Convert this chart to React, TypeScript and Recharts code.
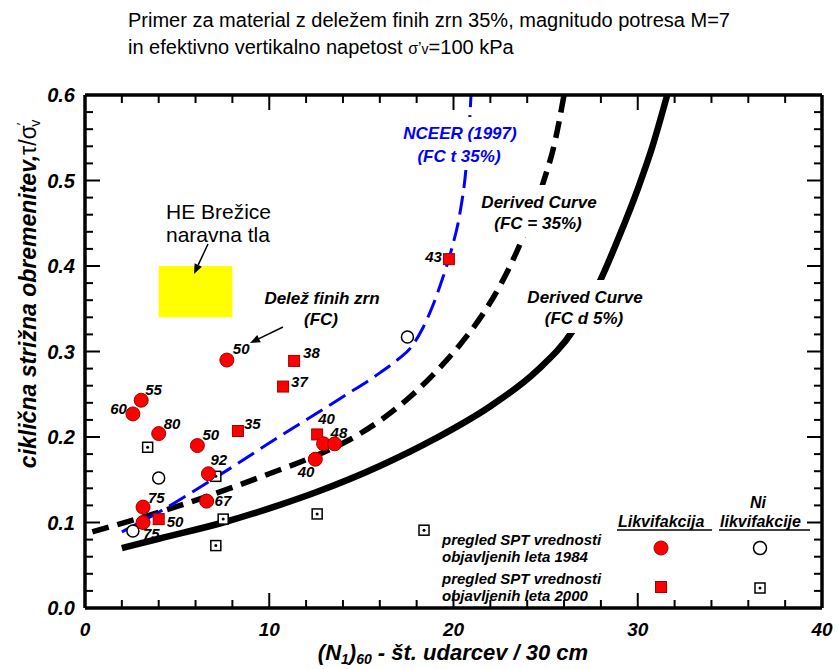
import React from 'react';
import { ComposedChart, XAxis, YAxis, Scatter, Line, ReferenceArea } from 'recharts';

// ---------- data ----------
const xTicks = [0, 2, 4, 6, 8, 10, 12, 14, 16, 18, 20, 22, 24, 26, 28, 30, 32, 34, 36, 38, 40];
const yTicks = [0, 0.02, 0.04, 0.06, 0.08, 0.1, 0.12, 0.14, 0.16, 0.18, 0.2, 0.22, 0.24, 0.26, 0.28, 0.3,
  0.32, 0.34, 0.36, 0.38, 0.4, 0.42, 0.44, 0.46, 0.48, 0.5, 0.52, 0.54, 0.56, 0.58, 0.6];

// 1984 review - liquefaction (red circles), fc = fines content label
const liq1984 = [
  { x: 7.7, y: 0.29, fc: '50' },
  { x: 3.05, y: 0.243, fc: '55' },
  { x: 2.6, y: 0.227, fc: '60' },
  { x: 4.0, y: 0.204, fc: '80' },
  { x: 6.1, y: 0.19, fc: '50' },
  { x: 6.7, y: 0.157, fc: '92' },
  { x: 6.6, y: 0.125, fc: '67' },
  { x: 3.15, y: 0.118, fc: '75' },
  { x: 3.15, y: 0.1, fc: '75' },
  { x: 12.5, y: 0.174, fc: '40' },
  { x: 12.95, y: 0.192, fc: '48' },
  { x: 13.55, y: 0.192, fc: '' },
];
// 2000 review - liquefaction (red squares)
const liq2000 = [
  { x: 11.35, y: 0.289, fc: '38' },
  { x: 10.75, y: 0.259, fc: '37' },
  { x: 8.3, y: 0.207, fc: '35' },
  { x: 12.6, y: 0.203, fc: '40' },
  { x: 4.0, y: 0.104, fc: '50' },
  { x: 19.75, y: 0.408, fc: '43' },
];
// 1984 review - no liquefaction (open circles)
const noLiq1984 = [
  { x: 4.0, y: 0.152 },
  { x: 2.6, y: 0.09 },
  { x: 17.5, y: 0.317 },
];
// 2000 review - no liquefaction (open squares with dot)
const noLiq2000 = [
  { x: 3.4, y: 0.188 },
  { x: 7.1, y: 0.154 },
  { x: 7.5, y: 0.104 },
  { x: 7.1, y: 0.073 },
  { x: 12.6, y: 0.11 },
  { x: 18.4, y: 0.091 },
];
// curves
const nceerCurve = [
  { x: 2, y: 0.089 }, { x: 4, y: 0.112 }, { x: 6, y: 0.138 }, { x: 8, y: 0.165 }, { x: 10, y: 0.193 },
  { x: 12, y: 0.22 }, { x: 14, y: 0.247 }, { x: 16, y: 0.275 }, { x: 17, y: 0.291 }, { x: 17.7, y: 0.305 },
  { x: 18.3, y: 0.326 }, { x: 18.9, y: 0.355 }, { x: 19.4, y: 0.385 }, { x: 19.9, y: 0.42 },
  { x: 20.35, y: 0.462 }, { x: 20.67, y: 0.512 }, { x: 20.85, y: 0.56 }, { x: 20.95, y: 0.6 },
];
const derived35 = [
  { x: 0.4, y: 0.089 }, { x: 2, y: 0.099 }, { x: 4, y: 0.112 }, { x: 6, y: 0.126 }, { x: 8, y: 0.141 },
  { x: 10, y: 0.157 }, { x: 12.4, y: 0.177 }, { x: 14.2, y: 0.195 }, { x: 16, y: 0.219 }, { x: 17.8, y: 0.25 },
  { x: 18.9, y: 0.273 }, { x: 20.35, y: 0.308 }, { x: 21.6, y: 0.344 }, { x: 22.6, y: 0.38 },
  { x: 23.6, y: 0.425 }, { x: 24.8, y: 0.493 }, { x: 25.5, y: 0.545 }, { x: 26.0, y: 0.6 },
];
const derived5 = [
  { x: 2, y: 0.07 }, { x: 4, y: 0.081 }, { x: 7.5, y: 0.1 }, { x: 10.5, y: 0.12 }, { x: 12.5, y: 0.135 },
  { x: 16, y: 0.166 }, { x: 19, y: 0.198 }, { x: 22, y: 0.236 }, { x: 24.5, y: 0.277 },
  { x: 26.5, y: 0.325 }, { x: 27.9, y: 0.38 }, { x: 29, y: 0.435 }, { x: 30, y: 0.49 },
  { x: 30.8, y: 0.54 }, { x: 31.6, y: 0.6 },
];
// site zone "HE Brežice naravna tla"
const siteZone = { x1: 4, x2: 8, y1: 0.34, y2: 0.4 };

// ---------- styles ----------
const FONT = '"Liberation Sans", Arial, sans-serif';
const RED = '#ff0000';
const RED_EDGE = '#a00000';

// label placement per point index: [dx, dy(center), anchor]
const place1984: [number, number, string][] = [
  [6, -11, 'start'], [4, -10, 'start'], [-6, -5, 'end'], [5, -10, 'start'], [5, -11, 'start'],
  [2, -14, 'start'], [8, 0, 'start'], [5, -9, 'start'], [0, 11, 'start'], [-1, 13, 'end'],
  [7, -11, 'start'], [0, 0, 'start'],
];
const place2000: [number, number, string][] = [
  [9, -8, 'start'], [8, -5, 'start'], [6, -7, 'start'], [1, -15, 'start'], [8, 3, 'start'], [-7, -2, 'end'],
];

const PtLabel = ({ cx, cy, text, p }: any) =>
  text ? (
    <text x={cx + p[0]} y={cy + p[1] + 5} textAnchor={p[2]} fontFamily={FONT} fontWeight="bold"
      fontStyle="italic" fontSize={15} fill="#000">{text}</text>
  ) : null;

const RedCircle = (props: any) => {
  const { cx, cy, payload, index } = props;
  return (
    <g>
      <circle cx={cx} cy={cy} r={7} fill={RED} stroke={RED_EDGE} strokeWidth={1} />
      <PtLabel cx={cx} cy={cy} text={payload.fc} p={place1984[index] || [6, -10, 'start']} />
    </g>
  );
};
const RedSquare = (props: any) => {
  const { cx, cy, payload, index } = props;
  return (
    <g>
      <rect x={cx - 5.5} y={cy - 5.5} width={11} height={11} fill={RED} stroke={RED_EDGE} strokeWidth={1} />
      <PtLabel cx={cx} cy={cy} text={payload.fc} p={place2000[index] || [6, -10, 'start']} />
    </g>
  );
};
const OpenCircle = (props: any) => (
  <circle cx={props.cx} cy={props.cy} r={6} fill="#fff" stroke="#000" strokeWidth={1.5} />
);
const DotSquare = (props: any) => (
  <g>
    <rect x={props.cx - 5} y={props.cy - 5} width={10} height={10} fill="#fff" stroke="#000" strokeWidth={1.5} />
    <circle cx={props.cx} cy={props.cy} r={1.5} fill="#000" />
  </g>
);

const isMajor = (v: number, step: number) => Math.abs(v / step - Math.round(v / step)) < 1e-6;

const BottomTick = ({ x, y, payload }: any) => {
  const major = isMajor(payload.value, 10);
  return (
    <g>
      <line x1={x} y1={y} x2={x} y2={y - (major ? 15 : 8)} stroke="#000" strokeWidth={2} />
      {major && (
        <text x={x} y={y + 28} textAnchor="middle" fontFamily={FONT} fontWeight="bold" fontStyle="italic"
          fontSize={19} fill="#000">{payload.value}</text>
      )}
    </g>
  );
};
const TopTick = ({ x, y, payload }: any) => {
  const major = isMajor(payload.value, 10);
  return <line x1={x} y1={y} x2={x} y2={y + (major ? 15 : 8)} stroke="#000" strokeWidth={2} />;
};
const LeftTick = ({ x, y, payload }: any) => {
  const major = isMajor(payload.value, 0.1);
  return (
    <g>
      <line x1={x} y1={y} x2={x + (major ? 15 : 8)} y2={y} stroke="#000" strokeWidth={2} />
      {major && (
        <text x={x - 10} y={y + 7} textAnchor="end" fontFamily={FONT} fontWeight="bold" fontStyle="italic"
          fontSize={20} fill="#000">{payload.value.toFixed(1)}</text>
      )}
    </g>
  );
};
const RightTick = ({ x, y, payload }: any) => {
  const major = isMajor(payload.value, 0.1);
  return <line x1={x} y1={y} x2={x - (major ? 15 : 8)} y2={y} stroke="#000" strokeWidth={2} />;
};

const axisLine = { stroke: '#000', strokeWidth: 3.5 };

const Arrow = ({ x1, y1, x2, y2 }: any) => {
  const a = Math.atan2(y2 - y1, x2 - x1);
  const L = 10, W = 4;
  const bx = x2 - L * Math.cos(a), by = y2 - L * Math.sin(a);
  const p1 = `${bx + W * Math.sin(a)},${by - W * Math.cos(a)}`;
  const p2 = `${bx - W * Math.sin(a)},${by + W * Math.cos(a)}`;
  return (
    <g>
      <line x1={x1} y1={y1} x2={bx} y2={by} stroke="#000" strokeWidth={1.5} />
      <polygon points={`${x2},${y2} ${p1} ${p2}`} fill="#000" />
    </g>
  );
};

const bi = { fontFamily: FONT, fontWeight: 'bold' as const, fontStyle: 'italic' as const };

export default function App() {
  return (
    <div style={{ position: 'absolute', left: 0, top: 0, width: 838, height: 669, overflow: 'hidden', background: '#fff' }}>
      <ComposedChart width={838} height={669} margin={{ top: 0, right: 0, bottom: 0, left: 0 }}>
        <XAxis xAxisId={0} dataKey="x" type="number" domain={[0, 40]} ticks={xTicks} interval={0}
          allowDataOverflow height={61} tickSize={0} tickMargin={0} tickLine={false} axisLine={axisLine}
          tick={<BottomTick />} />
        <XAxis xAxisId="top" orientation="top" dataKey="x" type="number" domain={[0, 40]} ticks={xTicks}
          interval={0} allowDataOverflow height={95} tickSize={0} tickMargin={0} tickLine={false}
          axisLine={axisLine} tick={<TopTick />} />
        <YAxis yAxisId={0} dataKey="y" type="number" domain={[0, 0.6]} ticks={yTicks} interval={0}
          allowDataOverflow width={85} tickSize={0} tickMargin={0} tickLine={false} axisLine={axisLine}
          tick={<LeftTick />} />
        <YAxis yAxisId="right" orientation="right" dataKey="y" type="number" domain={[0, 0.6]} ticks={yTicks}
          interval={0} allowDataOverflow width={16} tickSize={0} tickMargin={0} tickLine={false}
          axisLine={axisLine} tick={<RightTick />} />

        <ReferenceArea x1={siteZone.x1} x2={siteZone.x2} y1={siteZone.y1} y2={siteZone.y2}
          fill="#ffff00" fillOpacity={1} stroke="none" />

        <Line data={derived5} dataKey="y" type="monotone" stroke="#000" strokeWidth={6.5} dot={false}
          activeDot={false} isAnimationActive={false} />
        <Line data={derived35} dataKey="y" type="monotone" stroke="#000" strokeWidth={5.5}
          strokeDasharray="17 9" dot={false} activeDot={false} isAnimationActive={false} />
        <Line data={nceerCurve} dataKey="y" type="monotone" stroke="#0000ff" strokeWidth={3}
          strokeDasharray="19 8" dot={false} activeDot={false} isAnimationActive={false} />

        <Scatter data={noLiq2000} dataKey="y" shape={<DotSquare />} isAnimationActive={false} />
        <Scatter data={noLiq1984} dataKey="y" shape={<OpenCircle />} isAnimationActive={false} />
        <Scatter data={liq2000} dataKey="y" shape={<RedSquare />} isAnimationActive={false} />
        <Scatter data={liq1984} dataKey="y" shape={<RedCircle />} isAnimationActive={false} />
      </ComposedChart>

      <svg width={838} height={669} style={{ position: 'absolute', left: 0, top: 0, pointerEvents: 'none' }}>
        {/* title */}
        <text x={128} y={27} fontFamily={FONT} fontSize={20} fill="#000">
          Primer za material z deležem finih zrn 35%, magnitudo potresa M=7
        </text>
        <text x={128} y={54} fontFamily={FONT} fontSize={20} fill="#000">
          in efektivno vertikalno napetost <tspan fontSize={16}>σ’</tspan><tspan fontSize={14}>v</tspan>=100 kPa
        </text>

        {/* y axis label */}
        <text transform="rotate(-90)" x={-294} y={36} textAnchor="middle" {...bi} fontSize={23} fill="#000">
          ciklična strižna obremenitev,<tspan fontStyle="normal" fontWeight="normal">τ/σ</tspan>
          <tspan fontSize={13} dy={-10} fontStyle="normal" fontWeight="normal">′</tspan>
          <tspan fontSize={14} dy={14} dx={-4} fontStyle="normal" fontWeight="normal">v</tspan>
        </text>

        {/* x axis label */}
        <text x={453} y={660} textAnchor="middle" {...bi} fontSize={22} fill="#000">
          (N<tspan fontSize={14} dy={4}>1</tspan><tspan dy={-4}>)</tspan><tspan fontSize={14} dy={4}>60</tspan>
          <tspan dy={-4}> - št. udarcev / 30 cm</tspan>
        </text>

        {/* site annotation */}
        <text x={166} y={219} fontFamily={FONT} fontSize={21} fill="#000">HE Brežice</text>
        <text x={166} y={242} fontFamily={FONT} fontSize={21} fill="#000">naravna tla</text>
        <Arrow x1={208} y1={244} x2={194} y2={274} />

        <text x={322} y={304} textAnchor="middle" {...bi} fontSize={17} fill="#000">Delež finih zrn</text>
        <text x={321} y={325} textAnchor="middle" {...bi} fontSize={17} fill="#000">(FC)</text>
        <Arrow x1={283} y1={327} x2={250} y2={343} />

        {/* curve labels */}
        <rect x={400} y={117} width={122} height={53} fill="#fff" />
        <text x={460} y={139} textAnchor="middle" {...bi} fontSize={17} fill="#0000ff">NCEER (1997)</text>
        <text x={459} y={162} textAnchor="middle" {...bi} fontSize={17} fill="#0000ff">(FC t 35%)</text>

        <rect x={476} y={185} width={128} height={52} fill="#fff" />
        <text x={539} y={208} textAnchor="middle" {...bi} fontSize={17} fill="#000">Derived Curve</text>
        <text x={538} y={229} textAnchor="middle" {...bi} fontSize={17} fill="#000">(FC = 35%)</text>

        <rect x={520} y={280} width={130} height={53} fill="#fff" />
        <text x={585} y={303} textAnchor="middle" {...bi} fontSize={17} fill="#000">Derived Curve</text>
        <text x={584} y={324} textAnchor="middle" {...bi} fontSize={17} fill="#000">(FC d 5%)</text>

        {/* legend */}
        <text x={442} y={545} {...bi} fontSize={15} fill="#000">pregled SPT vrednosti</text>
        <text x={442} y={562} {...bi} fontSize={15} fill="#000">objavljenih leta 1984</text>
        <text x={442} y={584} {...bi} fontSize={15} fill="#000">pregled SPT vrednosti</text>
        <text x={442} y={601} {...bi} fontSize={15} fill="#000">objavljenih leta 2000</text>

        <text x={618} y={527} {...bi} fontSize={16} fill="#000">Likvifakcija</text>
        <line x1={617} y1={530} x2={712} y2={530} stroke="#000" strokeWidth={1.5} />
        <text x={758} y={508} textAnchor="middle" {...bi} fontSize={16} fill="#000">Ni</text>
        <text x={720} y={527} {...bi} fontSize={16} fill="#000">likvifakcije</text>
        <line x1={719} y1={530} x2={810} y2={530} stroke="#000" strokeWidth={1.5} />

        <circle cx={661} cy={548} r={7} fill={RED} stroke={RED_EDGE} strokeWidth={1} />
        <circle cx={760} cy={548} r={6.5} fill="#fff" stroke="#000" strokeWidth={1.5} />
        <rect x={655.5} y={581.5} width={11} height={11} fill={RED} stroke={RED_EDGE} strokeWidth={1} />
        <rect x={755} y={583} width={10} height={10} fill="#fff" stroke="#000" strokeWidth={1.5} />
        <circle cx={760} cy={588} r={1.5} fill="#000" />
      </svg>
    </div>
  );
}
